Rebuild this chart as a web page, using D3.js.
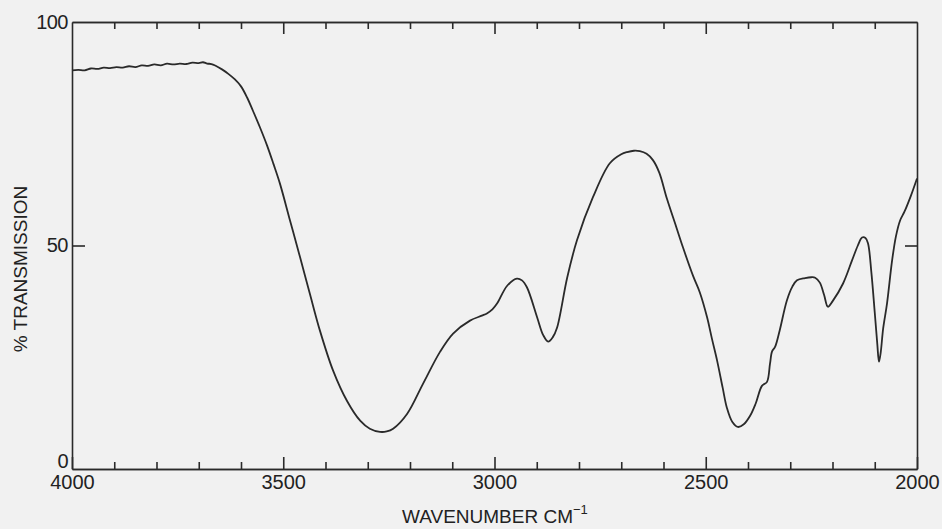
<!DOCTYPE html>
<html lang="en">
<head>
    <meta charset="UTF-8">
    <title>IR Spectrum</title>
    <script src="https://d3js.org/d3.v7.min.js"></script>
    <style>
        body { margin: 0; background: #f1f1f1; }
        svg { display: block; }
        text { font-family: "Liberation Sans", Arial, sans-serif; fill: #222; }
        .axis path, .axis line { stroke: #2a2a2a; stroke-width: 1.6; }
        .axis text { font-size: 20px; }
    </style>
</head>
<body>
    <div id="chart"></div>
    <script>
        // spectrum (wavenumber in cm-1, % transmission)
        const wavenumbers = [
            4000, 3985, 3970, 3955, 3940, 3925, 3910, 3895, 3880, 3865, 3850, 3835, 3820, 3805, 3790,
            3775, 3760, 3745, 3730, 3715, 3700, 3690, 3680, 3670, 3660, 3645, 3630, 3615, 3600, 3585,
            3572, 3555, 3538, 3523, 3508, 3484, 3460, 3437, 3413, 3382, 3349, 3318, 3295, 3271, 3255,
            3240, 3207, 3169, 3129, 3098, 3058, 3030, 3018, 3005, 2994, 2970, 2947, 2935, 2923, 2899,
            2885, 2873, 2862, 2852, 2828, 2805, 2767, 2727, 2700, 2686, 2670, 2656, 2640, 2625, 2610,
            2592, 2570, 2554, 2530, 2514, 2497, 2485, 2473, 2460, 2450, 2437, 2424, 2410, 2395, 2382,
            2367, 2355, 2348, 2343, 2336, 2325, 2308, 2295, 2284, 2265, 2250, 2241, 2230, 2220, 2211,
            2200, 2175, 2154, 2140, 2130, 2122, 2116, 2108, 2100, 2094, 2090, 2086, 2080, 2071, 2059,
            2050, 2040, 2030, 2015, 2000
        ];
        const transmission = [
            89.2, 89.3, 89.2, 89.6, 89.5, 89.8, 89.7, 89.9, 89.8, 90.1, 89.9, 90.3, 90.2, 90.5, 90.3,
            90.7, 90.5, 90.7, 90.6, 90.9, 90.8, 91.0, 90.7, 90.6, 90.2, 89.4, 88.4, 87.2, 85.6, 83.0,
            80.2, 76.4, 72.3, 68.2, 63.9, 55.6, 47.3, 39.2, 30.9, 22.0, 15.2, 10.8, 9.0, 8.3, 8.4,
            9.0, 12.3, 19.1, 26.2, 30.3, 33.2, 34.3, 34.8, 35.7, 37.0, 41.0, 42.6, 42.2, 40.6, 33.9,
            30.0, 28.5, 29.5, 31.6, 42.8, 51.1, 60.8, 68.4, 70.4, 70.9, 71.2, 71.1, 70.5, 69.1, 66.3,
            60.5, 54.2, 49.6, 43.2, 39.5, 34.0, 29.0, 24.2, 18.2, 13.7, 10.5, 9.4, 10.0, 11.9, 14.6,
            18.6, 19.5, 23.5, 26.3, 27.3, 31.0, 37.7, 40.8, 42.2, 42.7, 42.9, 42.8, 41.7, 39.0, 36.3,
            37.5, 41.5, 46.6, 50.0, 51.8, 51.7, 50.5, 44.0, 35.0, 28.0, 24.0, 26.0, 31.5, 37.0, 46.6,
            52.0, 55.6, 57.5, 61.0, 65.0
        ];
        const xMajorTicks = [4000, 3500, 3000, 2500, 2000];
        const xMinorTicks = d3.range(3900, 2000, -100).filter(d => d % 500 !== 0);
        const yTicks = [0, 50, 100];

        const width = 942;
        const height = 529;
        const margin = { top: 22, right: 25, bottom: 60, left: 72 };

        const x = d3.scaleLinear()
            .domain([4000, 2000])
            .range([margin.left, width - margin.right]);

        const y = d3.scaleLinear()
            .domain([0, 100])
            .range([height - margin.bottom, margin.top]);

        const svg = d3.select("#chart")
            .append("svg")
            .attr("width", width)
            .attr("height", height);

        const x0 = margin.left, x1 = width - margin.right;
        const y0 = height - margin.bottom, y1 = margin.top;

        // bottom axis: major ticks with labels, minor ticks without
        svg.append("g")
            .attr("class", "axis")
            .attr("transform", "translate(0," + y0 + ")")
            .call(d3.axisBottom(x).tickValues(xMinorTicks).tickSize(-7).tickFormat("").tickSizeOuter(0));
        svg.append("g")
            .attr("class", "axis")
            .attr("transform", "translate(0," + y0 + ")")
            .call(d3.axisBottom(x).tickValues(xMajorTicks).tickSize(-12).tickPadding(6)
                .tickFormat(d3.format("d")).tickSizeOuter(0));

        // top axis, ticks pointing inward
        svg.append("g")
            .attr("class", "axis")
            .attr("transform", "translate(0," + y1 + ")")
            .call(d3.axisTop(x).tickValues(xMinorTicks).tickSize(-7).tickFormat("").tickSizeOuter(0));
        svg.append("g")
            .attr("class", "axis")
            .attr("transform", "translate(0," + y1 + ")")
            .call(d3.axisTop(x).tickValues(xMajorTicks.slice(1, -1)).tickSize(-12).tickFormat("").tickSizeOuter(0));

        // left axis
        const yAxisG = svg.append("g")
            .attr("class", "axis")
            .attr("transform", "translate(" + x0 + ",0)")
            .call(d3.axisLeft(y).tickValues(yTicks).tickSize(0).tickPadding(4).tickSizeOuter(0));
        yAxisG.selectAll(".tick line")
            .attr("x2", d => d === 50 ? 13 : 0);
        yAxisG.selectAll(".tick text")
            .attr("dy", d => d === 0 ? "-0.1em" : "0.32em")
            .attr("letter-spacing", "-0.5px");

        // right axis
        svg.append("g")
            .attr("class", "axis")
            .attr("transform", "translate(" + x1 + ",0)")
            .call(d3.axisRight(y).tickValues([50]).tickSize(-12).tickFormat("").tickSizeOuter(0));

        // spectrum trace
        const points = wavenumbers.map((w, i) => [w, transmission[i]]);
        const line = d3.line()
            .x(d => x(d[0]))
            .y(d => y(d[1]))
            .curve(d3.curveCatmullRom.alpha(0.5));

        svg.append("path")
            .datum(points)
            .attr("fill", "none")
            .attr("stroke", "#2a2a2a")
            .attr("stroke-width", 1.8)
            .attr("stroke-linejoin", "round")
            .attr("d", line);

        // axis titles
        svg.append("text")
            .attr("transform", "translate(27," + 269 + ") rotate(-90)")
            .attr("text-anchor", "middle")
            .style("font-size", "19px")
            .text("% TRANSMISSION");

        const xTitle = svg.append("text")
            .attr("x", 402)
            .attr("y", 523)
            .style("font-size", "19px");
        xTitle.append("tspan").text("WAVENUMBER  CM");
        xTitle.append("tspan")
            .attr("dy", -9)
            .style("font-size", "13px")
            .text("\u22121");
    </script>
</body>
</html>
